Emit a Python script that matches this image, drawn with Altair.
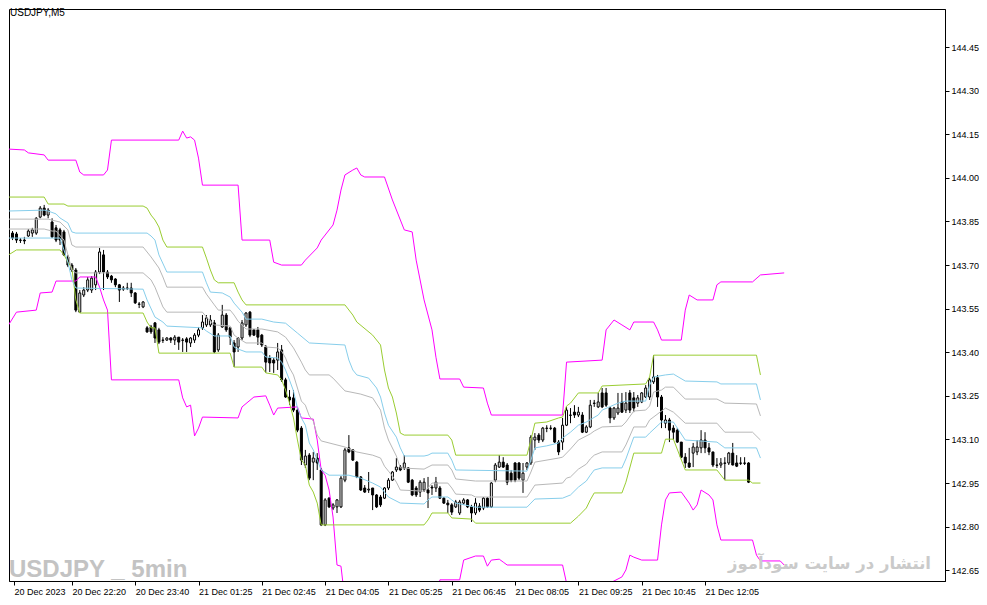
import json
import altair as alt
import pandas as pd

title_text = "USDJPY,M5"
watermark_left = "USDJPY _ 5min"
watermark_right = "انتشار در سایت سودآموز"

tick_bars = [1.375, 16, 32, 48, 64, 80, 96, 112, 128, 144, 160, 176]
tick_labels = ["20 Dec 2023", "20 Dec 22:20", "20 Dec 23:40", "21 Dec 01:25", "21 Dec 02:45",
               "21 Dec 04:05", "21 Dec 05:25", "21 Dec 06:45", "21 Dec 08:05", "21 Dec 09:25",
               "21 Dec 10:45", "21 Dec 12:05"]
price_ticks = [142.65, 142.80, 142.95, 143.10, 143.25, 143.40, 143.55, 143.70, 143.85,
               144.00, 144.15, 144.30, 144.45]

opens = [143.800, 143.810, 143.807, 143.786, 143.786, 143.800, 143.810, 143.810, 143.865, 143.896,
         143.872, 143.848, 143.828, 143.821, 143.814, 143.728, 143.700, 143.683, 143.538, 143.597,
         143.614, 143.614, 143.632, 143.676, 143.735, 143.676, 143.662, 143.652, 143.632, 143.617,
         143.621, 143.621, 143.604, 143.566, 143.556, 143.484, 143.487, 143.501, 143.477, 143.442,
         143.442, 143.449, 143.442, 143.452, 143.442, 143.446, 143.432, 143.442, 143.459, 143.484,
         143.494, 143.494, 143.501, 143.408, 143.487, 143.528, 143.484, 143.432, 143.418, 143.449,
         143.494, 143.538, 143.477, 143.477, 143.459, 143.418, 143.380, 143.373, 143.373, 143.408,
         143.305, 143.246, 143.243, 143.201, 143.139, 143.012, 143.046, 143.022, 143.036, 142.995,
         142.806, 142.898, 142.864, 142.868, 142.868, 142.960, 143.071, 143.064, 143.022, 142.971,
         142.933, 142.926, 142.933, 142.909, 142.902, 142.898, 142.933, 142.960, 142.995, 143.005,
         143.002, 143.002, 142.960, 142.933, 142.919, 142.926, 142.926, 142.936, 142.933, 142.933,
         142.898, 142.881, 142.875, 142.868, 142.847, 142.881, 142.892, 142.868, 142.847, 142.871,
         142.864, 142.898, 142.868, 142.960, 143.005, 143.022, 143.012, 142.984, 143.019, 143.019,
         142.960, 143.005, 143.019, 143.098, 143.115, 143.098, 143.139, 143.139, 143.139, 143.091,
         143.091, 143.149, 143.184, 143.194, 143.184, 143.184, 143.125, 143.143, 143.225, 143.212,
         143.260, 143.260, 143.208, 143.174, 143.191, 143.229, 143.201, 143.260, 143.243, 143.225,
         143.229, 143.246, 143.246, 143.298, 143.312, 143.246, 143.156, 143.167, 143.139, 143.132,
         143.091, 143.039, 143.019, 143.053, 143.057, 143.071, 143.098, 143.071, 143.057, 143.012,
         143.012, 143.019, 143.019, 143.053, 143.019, 143.019, 143.019, 143.019]
closes = [143.804, 143.793, 143.786, 143.785, 143.783, 143.817, 143.821, 143.861, 143.896, 143.872,
          143.889, 143.797, 143.786, 143.786, 143.735, 143.700, 143.683, 143.545, 143.604, 143.614,
          143.649, 143.655, 143.676, 143.745, 143.676, 143.659, 143.649, 143.632, 143.614, 143.621,
          143.620, 143.604, 143.570, 143.565, 143.573, 143.470, 143.470, 143.449, 143.435, 143.441,
          143.449, 143.442, 143.452, 143.435, 143.441, 143.435, 143.449, 143.459, 143.477, 143.504,
          143.518, 143.511, 143.401, 143.459, 143.528, 143.477, 143.452, 143.401, 143.449, 143.501,
          143.535, 143.459, 143.459, 143.452, 143.425, 143.366, 143.363, 143.363, 143.401, 143.305,
          143.246, 143.236, 143.201, 143.132, 143.029, 143.043, 142.967, 143.036, 143.019, 142.806,
          142.892, 142.868, 142.875, 142.892, 142.967, 143.064, 143.057, 143.029, 142.971, 142.926,
          142.919, 142.929, 142.909, 142.868, 142.875, 142.933, 142.960, 142.988, 143.005, 142.995,
          143.019, 142.953, 142.909, 142.909, 142.953, 142.953, 142.916, 142.933, 142.953, 142.898,
          142.881, 142.875, 142.850, 142.885, 142.885, 142.892, 142.868, 142.847, 142.881, 142.857,
          142.898, 142.868, 142.950, 143.012, 143.022, 143.005, 142.953, 142.960, 142.960, 142.967,
          142.984, 143.019, 143.108, 143.108, 143.098, 143.139, 143.138, 143.138, 143.091, 143.057,
          143.149, 143.201, 143.183, 143.184, 143.194, 143.125, 143.143, 143.218, 143.224, 143.229,
          143.212, 143.218, 143.174, 143.208, 143.208, 143.194, 143.225, 143.201, 143.208, 143.243,
          143.260, 143.277, 143.305, 143.315, 143.246, 143.167, 143.167, 143.132, 143.125, 143.091,
          143.039, 143.019, 143.005, 143.074, 143.074, 143.098, 143.071, 143.057, 143.012, 143.011,
          143.019, 143.018, 143.053, 143.012, 143.008, 143.018, 143.018, 142.953]
highs = [143.814, 143.817, 143.814, 143.793, 143.797, 143.824, 143.828, 143.865, 143.903, 143.907,
         143.896, 143.861, 143.838, 143.828, 143.821, 143.735, 143.707, 143.690, 143.614, 143.624,
         143.659, 143.662, 143.683, 143.759, 143.752, 143.683, 143.666, 143.655, 143.635, 143.628,
         143.639, 143.639, 143.607, 143.573, 143.576, 143.490, 143.494, 143.504, 143.484, 143.452,
         143.452, 143.452, 143.459, 143.452, 143.449, 143.452, 143.452, 143.466, 143.487, 143.528,
         143.528, 143.528, 143.511, 143.466, 143.563, 143.535, 143.487, 143.442, 143.452, 143.511,
         143.538, 143.542, 143.480, 143.487, 143.463, 143.425, 143.390, 143.380, 143.432, 143.425,
         143.312, 143.270, 143.270, 143.208, 143.146, 143.064, 143.053, 143.057, 143.053, 143.002,
         142.898, 142.902, 142.881, 142.895, 142.974, 143.071, 143.115, 143.067, 143.026, 142.974,
         142.943, 142.988, 142.933, 142.912, 142.909, 142.936, 142.967, 142.991, 143.036, 143.012,
         143.046, 143.005, 142.964, 142.940, 142.960, 142.967, 142.971, 142.943, 142.971, 142.940,
         142.902, 142.892, 142.881, 142.892, 142.892, 142.898, 142.895, 142.875, 142.898, 142.881,
         142.902, 142.902, 142.953, 143.019, 143.046, 143.039, 143.019, 142.995, 143.022, 143.022,
         143.019, 143.022, 143.115, 143.122, 143.122, 143.143, 143.149, 143.149, 143.143, 143.098,
         143.174, 143.212, 143.208, 143.218, 143.212, 143.194, 143.149, 143.236, 143.236, 143.260,
         143.277, 143.277, 143.212, 143.212, 143.260, 143.260, 143.263, 143.270, 143.263, 143.253,
         143.263, 143.287, 143.312, 143.390, 143.322, 143.253, 143.184, 143.174, 143.149, 143.139,
         143.091, 143.053, 143.071, 143.088, 143.098, 143.132, 143.125, 143.088, 143.057, 143.036,
         143.036, 143.039, 143.057, 143.088, 143.046, 143.039, 143.039, 143.022]
lows = [143.793, 143.786, 143.776, 143.776, 143.772, 143.797, 143.797, 143.804, 143.861, 143.868,
        143.861, 143.793, 143.779, 143.769, 143.731, 143.693, 143.676, 143.538, 143.535, 143.590,
        143.607, 143.604, 143.614, 143.669, 143.614, 143.652, 143.639, 143.624, 143.573, 143.611,
        143.614, 143.590, 143.566, 143.552, 143.552, 143.467, 143.463, 143.432, 143.428, 143.432,
        143.439, 143.432, 143.425, 143.408, 143.401, 143.401, 143.418, 143.432, 143.452, 143.477,
        143.487, 143.487, 143.397, 143.401, 143.484, 143.470, 143.425, 143.349, 143.401, 143.442,
        143.487, 143.452, 143.456, 143.425, 143.418, 143.329, 143.332, 143.329, 143.339, 143.298,
        143.243, 143.219, 143.194, 143.125, 143.012, 143.002, 142.960, 142.960, 142.995, 142.802,
        142.802, 142.864, 142.857, 142.847, 142.864, 142.953, 143.053, 143.026, 142.967, 142.923,
        142.916, 142.916, 142.857, 142.864, 142.868, 142.895, 142.926, 142.957, 142.988, 142.991,
        142.995, 142.950, 142.905, 142.902, 142.902, 142.919, 142.864, 142.909, 142.919, 142.895,
        142.878, 142.847, 142.840, 142.864, 142.840, 142.875, 142.864, 142.816, 142.840, 142.850,
        142.857, 142.864, 142.864, 142.953, 143.002, 143.002, 142.943, 142.953, 142.953, 142.960,
        142.916, 142.995, 143.012, 143.064, 143.088, 143.091, 143.125, 143.132, 143.088, 143.046,
        143.064, 143.146, 143.156, 143.174, 143.177, 143.122, 143.122, 143.139, 143.212, 143.208,
        143.208, 143.212, 143.156, 143.167, 143.184, 143.191, 143.191, 143.191, 143.194, 143.212,
        143.225, 143.243, 143.236, 143.291, 143.212, 143.139, 143.139, 143.091, 143.098, 143.088,
        143.036, 143.002, 143.002, 143.005, 143.046, 143.053, 143.053, 143.046, 143.005, 143.002,
        143.002, 142.960, 143.012, 143.011, 143.005, 143.012, 143.012, 142.950]

mag_up_bars = [0, 4, 5, 9, 10, 17, 18, 19, 24, 25, 26, 43, 44, 45, 46, 47, 48, 49, 58, 59, 66, 67, 69, 74, 75,
               78, 79, 82, 83, 84, 85, 87, 88, 89, 90, 95, 97, 100, 102, 103, 105, 107, 108, 109, 114, 115,
               120, 121, 122, 140, 141, 150, 151, 153, 155, 157, 158, 163, 164, 165, 170, 171, 172, 174,
               178, 179, 180, 188, 190, 196]
mag_up_vals = [144.099, 144.096, 144.086, 144.079, 144.061, 144.061, 144.020, 144.010, 144.010, 144.027,
               144.130, 144.130, 144.161, 144.137, 144.141, 144.130, 144.068, 143.975, 143.975, 143.786,
               143.786, 143.710, 143.700, 143.700, 143.717, 143.759, 143.786, 143.838, 143.889, 143.958,
               144.010, 144.027, 144.034, 144.010, 144.003, 144.003, 143.924, 143.821, 143.814, 143.717,
               143.580, 143.477, 143.383, 143.308, 143.308, 143.280, 143.277, 143.225, 143.184, 143.184,
               143.366, 143.373, 143.477, 143.511, 143.494, 143.477, 143.504, 143.504, 143.477, 143.442,
               143.442, 143.545, 143.597, 143.580, 143.580, 143.632, 143.642, 143.642, 143.666, 143.673]
mag_lo_bars = [0, 2, 7, 8, 11, 12, 17, 18, 22, 23, 24, 25, 26, 43, 44, 45, 46, 47, 48, 49, 58, 59, 62, 65, 66,
               67, 68, 73, 74, 77, 78, 79, 80, 81, 82, 83, 84, 85, 108, 109, 114, 115, 118, 120, 121, 122,
               124, 125, 126, 140, 141, 142, 151, 152, 155, 156, 157, 158, 160, 164, 165, 166, 167, 170,
               172, 173, 174, 175, 177, 178, 179, 180, 188, 189, 190, 195, 196]
mag_lo_vals = [143.494, 143.538, 143.545, 143.604, 143.607, 143.645, 143.645, 143.659, 143.659, 143.624,
               143.580, 143.545, 143.305, 143.305, 143.243, 143.212, 143.218, 143.112, 143.139, 143.177,
               143.174, 143.212, 143.246, 143.250, 143.218, 143.184, 143.208, 143.212, 143.174, 143.170,
               143.098, 142.995, 142.977, 142.926, 142.833, 142.668, 142.664, 142.547, 142.547, 142.617,
               142.617, 142.685, 142.699, 142.699, 142.664, 142.685, 142.688, 142.678, 142.668, 142.668,
               142.606, 142.547, 142.547, 142.606, 142.627, 142.651, 142.702, 142.695, 142.685, 142.685,
               142.806, 142.892, 142.916, 142.919, 142.881, 142.857, 142.875, 142.926, 142.909, 142.892,
               142.806, 142.754, 142.754, 142.702, 142.682, 142.682, 142.668]
green_up_bars = [0, 9, 10, 14, 15, 34, 35, 36, 37, 38, 39, 40, 49, 50, 51, 52, 53, 57, 58, 59, 60, 85, 87, 88,
                 92, 94, 95, 96, 97, 98, 99, 100, 111, 112, 113, 131, 132, 133, 136, 139, 140, 141, 142,
                 144, 149, 150, 161, 162, 163, 189, 190]
green_up_vals = [143.934, 143.934, 143.910, 143.910, 143.903, 143.903, 143.896, 143.872, 143.855, 143.831,
                 143.786, 143.762, 143.762, 143.724, 143.683, 143.649, 143.639, 143.639, 143.607, 143.580,
                 143.563, 143.563, 143.528, 143.504, 143.459, 143.425, 143.339, 143.277, 143.246, 143.191,
                 143.122, 143.115, 143.115, 143.098, 143.046, 143.046, 143.098, 143.156, 143.160, 143.174,
                 143.177, 143.215, 143.225, 143.260, 143.260, 143.284, 143.291, 143.315, 143.390, 143.390,
                 143.322]
green_lo_bars = [0, 2, 13, 14, 15, 16, 17, 18, 34, 35, 36, 37, 38, 56, 57, 64, 65, 68, 69, 70, 71, 72, 73, 74,
                 75, 76, 77, 78, 79, 105, 106, 107, 111, 112, 117, 118, 142, 144, 146, 147, 148, 155, 156,
                 158, 165, 166, 168, 171, 179, 181, 187, 188, 190]
green_lo_vals = [143.735, 143.752, 143.752, 143.735, 143.710, 143.690, 143.580, 143.535, 143.535, 143.504,
                 143.484, 143.484, 143.397, 143.397, 143.349, 143.349, 143.329, 143.322, 143.305, 143.270,
                 143.225, 143.174, 143.098, 143.029, 143.012, 142.943, 142.919, 142.881, 142.806, 142.806,
                 142.823, 142.847, 142.847, 142.830, 142.826, 142.812, 142.812, 142.836, 142.864, 142.892,
                 142.916, 142.916, 142.953, 143.053, 143.053, 143.101, 143.101, 142.995, 142.995, 142.960,
                 142.960, 142.950, 142.950]
blue_up_bars = [0, 9, 10, 12, 13, 15, 16, 17, 35, 36, 37, 38, 40, 49, 50, 51, 54, 56, 57, 59, 60, 64, 67, 70,
                73, 76, 85, 86, 87, 88, 91, 93, 94, 95, 96, 98, 99, 100, 105, 106, 107, 111, 112, 113, 131,
                132, 133, 136, 139, 140, 142, 144, 146, 149, 150, 154, 156, 161, 162, 163, 166, 168, 171,
                179, 180, 189, 190]
blue_up_vals = [143.886, 143.889, 143.886, 143.876, 143.862, 143.845, 143.814, 143.810, 143.810, 143.800,
                143.786, 143.735, 143.676, 143.676, 143.639, 143.607, 143.604, 143.590, 143.569, 143.538,
                143.514, 143.514, 143.504, 143.500, 143.466, 143.432, 143.425, 143.373, 143.339, 143.322,
                143.311, 143.277, 143.246, 143.191, 143.149, 143.108, 143.071, 143.043, 143.043, 143.046,
                143.053, 143.053, 143.029, 142.995, 142.991, 143.029, 143.071, 143.078, 143.088, 143.105,
                143.125, 143.149, 143.160, 143.184, 143.201, 143.225, 143.232, 143.232, 143.287, 143.315,
                143.322, 143.325, 143.301, 143.298, 143.291, 143.291, 143.236]
gray_up_bars = [0, 10, 13, 15, 16, 17, 34, 36, 38, 39, 40, 49, 50, 52, 53, 56, 57, 58, 60, 64, 68, 70, 72, 74,
                75, 76, 81, 82, 85, 89, 92, 94, 95, 96, 98, 99, 105, 107, 111, 112, 113, 118, 131, 132, 133,
                139, 140, 142, 144, 147, 148, 150, 155, 156, 158, 161, 162, 163, 165, 166, 168, 171, 179,
                181, 189, 190]
gray_up_vals = [143.858, 143.858, 143.848, 143.821, 143.769, 143.762, 143.762, 143.728, 143.690, 143.659,
                143.624, 143.624, 143.600, 143.563, 143.545, 143.545, 143.528, 143.507, 143.480, 143.480,
                143.470, 143.452, 143.415, 143.366, 143.339, 143.322, 143.322, 143.311, 143.267, 143.256,
                143.243, 143.201, 143.139, 143.098, 143.043, 143.002, 142.998, 143.012, 143.012, 142.995,
                142.964, 142.957, 142.957, 142.988, 143.022, 143.036, 143.039, 143.067, 143.098, 143.119,
                143.129, 143.143, 143.146, 143.160, 143.198, 143.201, 143.215, 143.263, 143.270, 143.280,
                143.280, 143.239, 143.239, 143.225, 143.222, 143.181]
gray_lo_bars = [0, 9, 11, 12, 14, 15, 16, 17, 34, 36, 37, 39, 40, 49, 50, 52, 56, 57, 58, 60, 64, 65, 68, 69,
                70, 71, 72, 73, 74, 75, 76, 77, 78, 79, 85, 88, 92, 94, 95, 96, 97, 98, 99, 105, 106, 107,
                111, 112, 113, 117, 118, 131, 132, 133, 140, 141, 142, 144, 146, 147, 148, 150, 155, 156,
                158, 161, 162, 166, 168, 171, 179, 181, 188, 190]
gray_lo_vals = [143.824, 143.824, 143.817, 143.817, 143.786, 143.735, 143.683, 143.673, 143.673, 143.649,
                143.624, 143.556, 143.538, 143.538, 143.521, 143.494, 143.490, 143.459, 143.449, 143.432,
                143.432, 143.418, 143.415, 143.404, 143.380, 143.346, 143.322, 143.277, 143.232, 143.218,
                143.181, 143.163, 143.115, 143.095, 143.074, 143.057, 143.046, 143.036, 143.008, 142.991,
                142.974, 142.953, 142.926, 142.922, 142.933, 142.950, 142.950, 142.933, 142.912, 142.909,
                142.902, 142.902, 142.922, 142.943, 142.950, 142.967, 142.971, 142.998, 143.015, 143.033,
                143.046, 143.057, 143.057, 143.081, 143.143, 143.143, 143.167, 143.208, 143.194, 143.156,
                143.156, 143.125, 143.125, 143.098]
blue_lo_bars = [0, 13, 14, 15, 16, 17, 34, 35, 37, 39, 40, 49, 50, 52, 56, 57, 58, 60, 64, 65, 68, 69, 70, 71,
                72, 73, 74, 75, 76, 77, 78, 79, 81, 86, 89, 92, 94, 96, 99, 105, 106, 107, 111, 112, 113,
                118, 131, 132, 133, 140, 142, 144, 146, 147, 148, 150, 155, 156, 158, 161, 162, 165, 168,
                171, 179, 181, 189, 190]
blue_lo_vals = [143.793, 143.793, 143.752, 143.710, 143.649, 143.621, 143.617, 143.580, 143.521, 143.504,
                143.490, 143.484, 143.473, 143.456, 143.456, 143.418, 143.411, 143.401, 143.401, 143.384,
                143.380, 143.366, 143.339, 143.304, 143.267, 143.208, 143.174, 143.149, 143.088, 143.064,
                143.029, 142.995, 142.977, 142.977, 142.967, 142.950, 142.936, 142.902, 142.881, 142.878,
                142.892, 142.902, 142.902, 142.892, 142.881, 142.867, 142.867, 142.881, 142.895, 142.898,
                142.909, 142.936, 142.957, 142.977, 142.995, 143.002, 143.002, 143.033, 143.108, 143.108,
                143.122, 143.160, 143.160, 143.098, 143.091, 143.071, 143.071, 143.036]

line_names = ["mag_up", "mag_lo", "green_up", "green_lo", "blue_up", "blue_lo", "gray_up", "gray_lo"]
line_colors = ["#ff00ff", "#ff00ff", "#9acd32", "#9acd32", "#87ceeb", "#87ceeb", "#b8b8b8", "#b8b8b8"]
line_data = [(mag_up_bars, mag_up_vals), (mag_lo_bars, mag_lo_vals),
             (green_up_bars, green_up_vals), (green_lo_bars, green_lo_vals),
             (blue_up_bars, blue_up_vals), (blue_lo_bars, blue_lo_vals),
             (gray_up_bars, gray_up_vals), (gray_lo_bars, gray_lo_vals)]

candles = pd.DataFrame({"bar": list(range(len(opens))), "o": opens, "h": highs, "l": lows, "c": closes})
frames = []
for name, (bx, bv) in zip(line_names, line_data):
    frames.append(pd.DataFrame({"series": name, "bar": bx, "price": bv}))
lines_df = pd.concat(frames, ignore_index=True)

FONT = "Liberation Sans"
label_expr = ("[" + ",".join(json.dumps(t) for t in tick_labels) + "][indexof(["
              + ",".join(str(v) for v in tick_bars) + "], datum.value)]")

x_scale = alt.Scale(domain=[1.375, 235.375], nice=False, zero=False)
y_scale = alt.Scale(domain=[142.613, 144.581], nice=False, zero=False)
x_axis = alt.Axis(values=tick_bars, labelExpr=label_expr, grid=False, tickSize=4, labelAlign="left",
                  labelPadding=2, labelFlush=False, labelOverlap=False, title=None)
y_axis = alt.Axis(orient="right", values=price_ticks, format=".2f", grid=False, tickSize=4,
                  labelPadding=2, title=None, labelOverlap=False)

X = lambda f: alt.X(f, type="quantitative", scale=x_scale, axis=x_axis)
Y = lambda f: alt.Y(f, type="quantitative", scale=y_scale, axis=y_axis)

wicks = alt.Chart(candles).mark_rule(color="black", strokeWidth=1, clip=True).encode(
    x=X("bar"), y=Y("l"), y2="h")
bodies = alt.Chart(candles).mark_bar(size=2, stroke="black", strokeWidth=1, clip=True).encode(
    x=X("bar"), y=Y("o"), y2="c",
    fill=alt.condition("datum.c < datum.o", alt.value("black"), alt.value("white")))
lines = alt.Chart(lines_df).mark_line(strokeWidth=1, clip=True).encode(
    x=X("bar"), y=Y("price"),
    color=alt.Color("series:N", scale=alt.Scale(domain=line_names, range=line_colors), legend=None),
    detail="series:N")

title_mark = alt.Chart(pd.DataFrame({"t": [title_text]})).mark_text(
    align="left", baseline="alphabetic", font=FONT, fontSize=10, color="black").encode(
    x=alt.value(1), y=alt.value(7), text="t:N")
wm_left = alt.Chart(pd.DataFrame({"t": [watermark_left]})).mark_text(
    align="left", baseline="alphabetic", font="Liberation Sans",
    fontSize=24, fontWeight="bold", color="#c3c3c3").encode(
    x=alt.value(0), y=alt.value(568), text="t:N")
wm_right = alt.Chart(pd.DataFrame({"t": [watermark_right]})).mark_text(
    align="right", baseline="alphabetic", font="DejaVu Sans", fontSize=16.5, fontWeight="bold",
    color="#cacaca").encode(
    x=alt.value(922), y=alt.value(560), text="t:N")

chart = alt.layer(wicks, bodies, lines, title_mark, wm_left, wm_right).properties(
    width=936, height=572,
    autosize=alt.AutoSizeParams(type="none"),
    padding={"left": 1, "top": 1, "right": 34, "bottom": 16},
    background="white",
).configure_view(stroke="black", strokeWidth=1).configure_axis(
    labelFont=FONT, labelFontSize=9, labelColor="black", tickColor="black", domainColor="black",
    domainWidth=1, tickWidth=1)

chart.save("out.html", embed_options={"renderer": "svg", "actions": False})
